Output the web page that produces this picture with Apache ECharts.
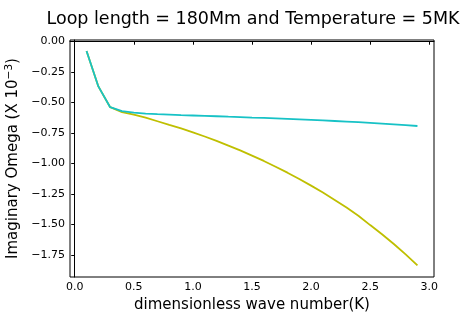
<!DOCTYPE html>
<html>
<head>
<meta charset="utf-8">
<script src="https://cdn.jsdelivr.net/npm/echarts@6/dist/echarts.min.js"></script>
<style>
  html, body { margin: 0; padding: 0; background: #fff; }
  #chart { width: 462px; height: 321px; }
</style>
</head>
<body>
<div id="chart"></div>
<script>
var waveNumbers = [0.1, 0.2, 0.3, 0.4, 0.5, 0.6, 0.7, 0.8, 0.9, 1.0,
    1.1, 1.2, 1.3, 1.4, 1.5, 1.6, 1.7, 1.8, 1.9, 2.0,
    2.1, 2.2, 2.3, 2.4, 2.5, 2.6, 2.7, 2.8, 2.9];
var omegaYellow = [-0.08, -0.37, -0.54, -0.58, -0.600, -0.625, -0.655, -0.685, -0.714, -0.746,
    -0.780, -0.816, -0.854, -0.894, -0.936, -0.980, -1.027, -1.076, -1.128, -1.182,
    -1.239, -1.299, -1.362, -1.428, -1.505, -1.580, -1.660, -1.745, -1.835];
var omegaCyan = [-0.08, -0.37, -0.54, -0.572, -0.585, -0.592, -0.597, -0.601, -0.605, -0.608,
    -0.611, -0.614, -0.618, -0.621, -0.625, -0.628, -0.632, -0.636, -0.640, -0.644,
    -0.648, -0.653, -0.658, -0.663, -0.668, -0.674, -0.680, -0.687, -0.694];
var xTicks = [0, 0.5, 1.0, 1.5, 2.0, 2.5, 3.0];
var yTicks = [0, -0.25, -0.5, -0.75, -1.0, -1.25, -1.5, -1.75];

var font = 'DejaVu Sans';

pairUp = function (xs, ys) {
    var data = [];
    for (var i = 0; i < xs.length; i++) {
        data.push([xs[i], ys[i]]);
    }
    return data;
};

var myChart = echarts.init(document.getElementById('chart'), null, { renderer: 'canvas' });
var option = {
    animation: false,
    title: {
        text: 'Loop length = 180Mm and Temperature = 5MK',
        left: 248,
        textAlign: 'center',
        top: 5,
        textStyle: { fontFamily: font, fontSize: 17.5, fontWeight: 'normal', color: '#000' }
    },
    grid: {
        left: 70,
        right: 28,
        top: 40,
        bottom: 44,
        outerBoundsMode: 'none',
        containLabel: false,
        show: true,
        borderColor: '#000',
        borderWidth: 1,
        backgroundColor: 'transparent'
    },
    xAxis: {
        type: 'value',
        min: -0.04,
        max: 3.04,
        name: 'dimensionless wave number(K)',
        nameLocation: 'middle',
        nameGap: 19,
        nameTextStyle: { fontFamily: font, fontSize: 15, color: '#000' },
        splitLine: { show: false },
        axisLine: { lineStyle: { color: '#000', width: 1 } },
        axisTick: { customValues: xTicks, length: 3.5, lineStyle: { color: '#000' } },
        axisLabel: {
            customValues: xTicks,
            fontFamily: font, fontSize: 11, color: '#000', margin: 5,
            formatter: function (v) { return v.toFixed(1); }
        }
    },
    yAxis: {
        type: 'value',
        min: -1.93,
        max: 0.01,
        name: '{n|Imaginary Omega (X 10}{s|−3}{n|)}',
        nameLocation: 'middle',
        nameGap: 42,
        nameTextStyle: {
            rich: {
                n: { fontFamily: font, fontSize: 15, color: '#000' },
                s: { fontFamily: font, fontSize: 10.5, color: '#000', verticalAlign: 'top', padding: [0, 0, 8, 0] }
            }
        },
        splitLine: { show: false },
        axisLine: { show: true, lineStyle: { color: '#000', width: 1 } },
        axisTick: { show: true, customValues: yTicks, length: 3.5, lineStyle: { color: '#000' } },
        axisLabel: {
            customValues: yTicks,
            fontFamily: font, fontSize: 11, color: '#000', margin: 5,
            formatter: function (v) { return v.toFixed(2).replace('-', '−'); }
        }
    },
    series: [
        {
            name: 'yellow',
            type: 'line',
            data: pairUp(waveNumbers, omegaYellow),
            showSymbol: false,
            lineStyle: { color: '#bfbf00', width: 1.8 },
            itemStyle: { color: '#bfbf00' }
        },
        {
            name: 'cyan',
            type: 'line',
            data: pairUp(waveNumbers, omegaCyan),
            showSymbol: false,
            lineStyle: { color: '#17c2c6', width: 1.8 },
            itemStyle: { color: '#17c2c6' }
        }
    ]
};
option && myChart.setOption(option);
window.onresize = function () {
    myChart.resize();
};
</script>
</body>
</html>
